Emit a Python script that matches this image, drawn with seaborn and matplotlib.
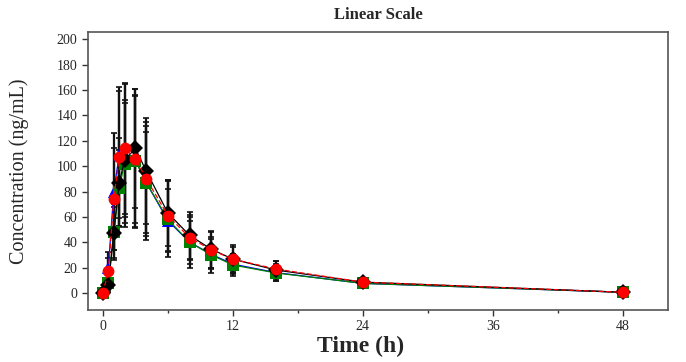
import numpy as np
import pandas as pd
import matplotlib
matplotlib.use("Agg")
import matplotlib.pyplot as plt
from matplotlib.ticker import MultipleLocator
import seaborn as sns

# Mean concentration-time data (ng/mL) for four groups
times = [0, 0.5, 1, 1.5, 2, 3, 4, 6, 8, 10, 12, 16, 24, 48]
blue_mean = [0, 20, 80, 109, 110, 105, 87, 57, 40, 30.5, 22.7, 16, 7.5, 0.5]
green_mean = [0, 8, 48, 83, 102, 104, 87, 58, 40, 30, 22, 15.7, 7.5, 0.5]
red_mean = [0, 17.5, 74, 107.5, 114, 106, 90, 61, 43.6, 34, 26.6, 18.8, 8.5, 0.5]
black_mean = [0, 6, 47.5, 87, 105, 114, 96, 63, 45.4, 34.5, 26.6, 18, 8.5, 0.5]

# Standard deviations
blue_sd = [0, 12, 46, 50, 55, 50, 40, 25, 17, 12, 8, 7, 2.5, 0.6]
green_sd = [0, 6, 22, 30, 50, 52, 45, 30, 20, 14, 9, 6, 2, 0.6]
red_sd = [0, 10, 40, 55, 52, 55, 45, 28, 18, 14, 10, 6.2, 3.5, 0.8]
black_sd = [0, 5, 20, 35, 45, 47, 42, 26, 18.6, 14.5, 11, 7, 3, 0.8]

groups = ["A", "B", "C", "D"]
means = [blue_mean, green_mean, red_mean, black_mean]
sds = [blue_sd, green_sd, red_sd, black_sd]
colors = {"A": "#0000ff", "B": "#008000", "C": "#ff0000", "D": "#000000"}
markers = {"A": "^", "B": "s", "C": "o", "D": "D"}
dashes = {"A": "", "B": "", "C": (4, 2), "D": ""}
draw_order = ["A", "B", "D", "C"]  # red circles end up on top

df = pd.concat([
    pd.DataFrame({"time": times, "conc": m, "sd": s, "group": g})
    for g, m, s in zip(groups, means, sds)
], ignore_index=True)

sns.set_style("ticks")
plt.rcParams["font.family"] = ["Liberation Serif", "DejaVu Serif"]

fig = plt.figure(figsize=(6.86, 3.62), dpi=100)
ax = fig.add_axes([0.128, 0.144, 0.846, 0.768])

# error bars first, all in black
for g in groups:
    sub = df[df["group"] == g]
    ax.errorbar(sub["time"], sub["conc"], yerr=sub["sd"], fmt="none",
                ecolor="#111111", elinewidth=1.6, capsize=2.5, capthick=1.2, zorder=2)

sns.lineplot(data=df, x="time", y="conc", hue="group", style="group",
             hue_order=draw_order, style_order=draw_order,
             palette=colors, markers=markers, dashes=dashes, markersize=8.5,
             markeredgewidth=0, linewidth=0.9, legend=False, ax=ax, zorder=3)

ax.set_xlim(-1.4, 52.2)
ax.set_ylim(-13.4, 206)
ax.xaxis.set_major_locator(MultipleLocator(12))
ax.xaxis.set_minor_locator(MultipleLocator(6))
ax.yaxis.set_major_locator(MultipleLocator(20))
ax.tick_params(axis="both", which="major", direction="out", length=4, width=1,
               labelsize=10, color="#333333")
ax.tick_params(axis="x", which="minor", direction="out", length=2.5, width=1, color="#333333")

for sp in ax.spines.values():
    sp.set_color("#555555")
    sp.set_linewidth(1.2)

ax.set_title("Linear Scale", fontsize=12, fontweight="bold", pad=9)
ax.set_xlabel("Time (h)", fontsize=17, fontweight="bold")
ax.xaxis.set_label_coords(0.47, -0.095)
ax.set_ylabel("Concentration (ng/mL)", fontsize=14.5)
ax.yaxis.set_label_coords(-0.102, 0.5)

fig.savefig("out.png", dpi=100)
